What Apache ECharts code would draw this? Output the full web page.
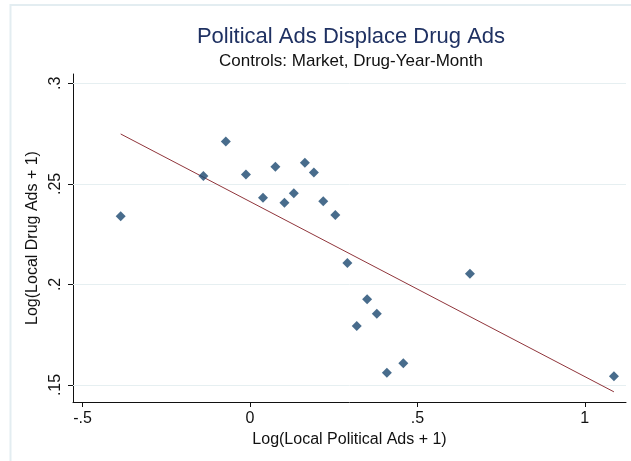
<!DOCTYPE html>
<html>
<head>
<meta charset="utf-8">
<script src="https://cdn.jsdelivr.net/npm/echarts@6/dist/echarts.min.js"></script>
<style>
  html, body { margin: 0; padding: 0; background: #fff; }
  #main { width: 631px; height: 461px; }
</style>
</head>
<body>
<div id="main"></div>
<script>
// scatter points: [log political ads, log drug ads]
const polAds = [-0.386, -0.139, -0.072, -0.012, 0.039, 0.076, 0.103, 0.131, 0.164, 0.191,
                0.219, 0.255, 0.291, 0.350, 0.379, 0.319, 0.458, 0.409, 0.657, 1.087];
const drugAds = [0.2339, 0.2539, 0.2710, 0.2547, 0.2431, 0.2585, 0.2406, 0.2453, 0.2605, 0.2557,
                 0.2413, 0.2345, 0.2106, 0.1926, 0.1854, 0.1793, 0.1608, 0.1561, 0.2053, 0.1543];

// fitted line end points
const fitX = [-0.386, 1.087];
const fitY = [0.2748, 0.1466];

const xTicks = [-0.5, 0, 0.5, 1];
const yTicks = [0.15, 0.2, 0.25, 0.3];

// stata style labels: ".5", "-.5", ".25"
function stataNum(v) {
    let s = String(v);
    if (s.indexOf('0.') === 0) s = s.slice(1);
    if (s.indexOf('-0.') === 0) s = '-' + s.slice(2);
    return s;
}

const font = 'Liberation Sans, Arial, sans-serif';
const chart = echarts.init(document.getElementById('main'));

chart.setOption({
    backgroundColor: '#ffffff',
    animation: false,
    textStyle: { fontFamily: font },
    graphic: [{
        // light outer frame
        type: 'rect',
        shape: { x: 10.5, y: 5, width: 700, height: 600 },
        style: { fill: 'none', stroke: '#e3edf1', lineWidth: 2 },
        silent: true
    }],
    title: {
        text: 'Political Ads Displace Drug Ads',
        subtext: 'Controls: Market, Drug-Year-Month',
        left: 346,
        top: 21,
        textAlign: 'center',
        itemGap: 5,
        textStyle: { color: '#1f3162', fontSize: 22, fontWeight: 'normal', fontFamily: font },
        subtextStyle: { color: '#111', fontSize: 17, fontFamily: font }
    },
    grid: { left: 73, right: 5, top: 74, bottom: 59 },
    xAxis: {
        type: 'value',
        min: -0.5284,
        max: 1.1231,
        name: 'Log(Local Political Ads + 1)',
        nameLocation: 'middle',
        nameGap: 27,
        nameTextStyle: { color: '#111', fontSize: 16, fontFamily: font },
        axisLine: { show: true, onZero: false, lineStyle: { color: '#111', width: 1 } },
        axisTick: { show: true, customValues: xTicks, length: 5, lineStyle: { color: '#111' } },
        axisLabel: {
            customValues: xTicks,
            formatter: stataNum,
            color: '#111', fontSize: 16, margin: 9, fontFamily: font
        },
        splitLine: { show: false }
    },
    yAxis: {
        type: 'value',
        min: 0.14155,
        max: 0.30462,
        name: 'Log(Local Drug Ads + 1)',
        nameLocation: 'middle',
        nameGap: 31,
        nameTextStyle: { color: '#111', fontSize: 16, fontFamily: font },
        axisLine: { show: true, onZero: false, lineStyle: { color: '#111', width: 1 } },
        axisTick: { show: true, customValues: yTicks, length: 5, lineStyle: { color: '#111' } },
        axisLabel: {
            customValues: yTicks,
            formatter: stataNum,
            rotate: 90,
            color: '#111', fontSize: 16, margin: 9, fontFamily: font
        },
        splitLine: { show: false }
    },
    series: [{
        // horizontal grid lines at the y ticks
        type: 'line',
        data: [],
        z: 1,
        markLine: {
            silent: true,
            z: 1,
            symbol: 'none',
            label: { show: false },
            lineStyle: { color: '#e6eff1', width: 1, type: 'solid' },
            data: yTicks.map(v => ({ yAxis: v }))
        }
    }, {
        type: 'line',
        data: fitX.map((x, i) => [x, fitY[i]]),
        symbol: 'none',
        lineStyle: { color: '#90353b', width: 1 },
        z: 2
    }, {
        type: 'scatter',
        data: polAds.map((x, i) => [x, drugAds[i]]),
        symbol: 'diamond',
        symbolSize: 10,
        itemStyle: { color: '#1a476f' },
        z: 3
    }]
});
</script>
</body>
</html>
